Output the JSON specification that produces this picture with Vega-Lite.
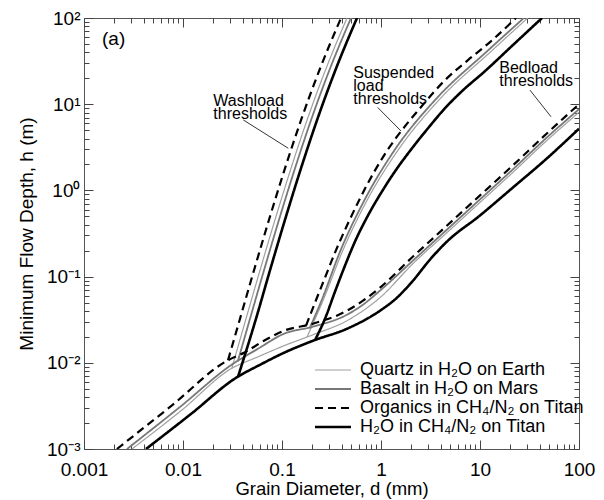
{
  "$schema": "https://vega.github.io/schema/vega-lite/v6.json",
  "width": 495,
  "height": 431,
  "autosize": {"type": "none"},
  "padding": {"left": 84, "top": 18, "right": 25, "bottom": 51},
  "config": {
    "font": "Liberation Sans",
    "view": {"stroke": "#555555", "strokeWidth": 1},
    "axis": {"grid": false, "zindex": 1, "labelColor": "#000000", "titleColor": "#000000", "labelFont": "Liberation Sans", "titleFont": "Liberation Sans", "titleFontWeight": "normal", "labelOverlap": false, "labelFlush": false, "labelBound": false},
    "legend": {"orient": "none", "legendX": 240, "legendY": 343, "padding": 0, "labelFontSize": 18, "labelFont": "Liberation Sans", "labelColor": "#000000", "symbolType": "M-3,0H3", "symbolSize": 144, "labelOffset": 18, "rowPadding": 1, "labelLimit": 400}
  },
  "datasets": {
    "curves": [
      {"material": "Quartz in H₂O on Earth", "threshold": "bed", "d": 0.00305, "h": 0.001},
      {"material": "Quartz in H₂O on Earth", "threshold": "bed", "d": 0.00977, "h": 0.00284},
      {"material": "Quartz in H₂O on Earth", "threshold": "bed", "d": 0.03054, "h": 0.00852},
      {"material": "Quartz in H₂O on Earth", "threshold": "bed", "d": 0.0572, "h": 0.01174},
      {"material": "Quartz in H₂O on Earth", "threshold": "bed", "d": 0.1047, "h": 0.01576},
      {"material": "Quartz in H₂O on Earth", "threshold": "bed", "d": 0.2056, "h": 0.02117},
      {"material": "Quartz in H₂O on Earth", "threshold": "bed", "d": 0.4535, "h": 0.03079},
      {"material": "Quartz in H₂O on Earth", "threshold": "bed", "d": 0.658, "h": 0.0402},
      {"material": "Quartz in H₂O on Earth", "threshold": "bed", "d": 0.977, "h": 0.057},
      {"material": "Quartz in H₂O on Earth", "threshold": "bed", "d": 2.105, "h": 0.1416},
      {"material": "Quartz in H₂O on Earth", "threshold": "bed", "d": 4.535, "h": 0.3162},
      {"material": "Quartz in H₂O on Earth", "threshold": "bed", "d": 10, "h": 0.7253},
      {"material": "Quartz in H₂O on Earth", "threshold": "bed", "d": 21.5, "h": 1.619},
      {"material": "Quartz in H₂O on Earth", "threshold": "bed", "d": 46.4, "h": 3.714},
      {"material": "Quartz in H₂O on Earth", "threshold": "bed", "d": 100, "h": 8.072},
      {"material": "Quartz in H₂O on Earth", "threshold": "wash", "d": 0.03104, "h": 0.00852},
      {"material": "Quartz in H₂O on Earth", "threshold": "wash", "d": 0.04329, "h": 0.03248},
      {"material": "Quartz in H₂O on Earth", "threshold": "wash", "d": 0.06065, "h": 0.1239},
      {"material": "Quartz in H₂O on Earth", "threshold": "wash", "d": 0.08577, "h": 0.4726},
      {"material": "Quartz in H₂O on Earth", "threshold": "wash", "d": 0.1233, "h": 1.803},
      {"material": "Quartz in H₂O on Earth", "threshold": "wash", "d": 0.1818, "h": 6.874},
      {"material": "Quartz in H₂O on Earth", "threshold": "wash", "d": 0.2796, "h": 26.22},
      {"material": "Quartz in H₂O on Earth", "threshold": "wash", "d": 0.4535, "h": 100},
      {"material": "Quartz in H₂O on Earth", "threshold": "susp", "d": 0.1788, "h": 0.0199},
      {"material": "Quartz in H₂O on Earth", "threshold": "susp", "d": 0.2595, "h": 0.0526},
      {"material": "Quartz in H₂O on Earth", "threshold": "susp", "d": 0.4113, "h": 0.2006},
      {"material": "Quartz in H₂O on Earth", "threshold": "susp", "d": 0.7221, "h": 0.765},
      {"material": "Quartz in H₂O on Earth", "threshold": "susp", "d": 1.482, "h": 2.918},
      {"material": "Quartz in H₂O on Earth", "threshold": "susp", "d": 3.835, "h": 11.13},
      {"material": "Quartz in H₂O on Earth", "threshold": "susp", "d": 13.38, "h": 42.45},
      {"material": "Quartz in H₂O on Earth", "threshold": "susp", "d": 30.33, "h": 100},

      {"material": "Basalt in H₂O on Mars", "threshold": "bed", "d": 0.00272, "h": 0.001},
      {"material": "Basalt in H₂O on Mars", "threshold": "bed", "d": 0.00933, "h": 0.00308},
      {"material": "Basalt in H₂O on Mars", "threshold": "bed", "d": 0.032, "h": 0.00974},
      {"material": "Basalt in H₂O on Mars", "threshold": "bed", "d": 0.0572, "h": 0.01455},
      {"material": "Basalt in H₂O on Mars", "threshold": "bed", "d": 0.1047, "h": 0.02174},
      {"material": "Basalt in H₂O on Mars", "threshold": "bed", "d": 0.2056, "h": 0.02622},
      {"material": "Basalt in H₂O on Mars", "threshold": "bed", "d": 0.4535, "h": 0.03614},
      {"material": "Basalt in H₂O on Mars", "threshold": "bed", "d": 0.658, "h": 0.04726},
      {"material": "Basalt in H₂O on Mars", "threshold": "bed", "d": 0.977, "h": 0.06874},
      {"material": "Basalt in H₂O on Mars", "threshold": "bed", "d": 2.105, "h": 0.1535},
      {"material": "Basalt in H₂O on Mars", "threshold": "bed", "d": 4.535, "h": 0.3426},
      {"material": "Basalt in H₂O on Mars", "threshold": "bed", "d": 10, "h": 0.786},
      {"material": "Basalt in H₂O on Mars", "threshold": "bed", "d": 21.5, "h": 1.755},
      {"material": "Basalt in H₂O on Mars", "threshold": "bed", "d": 46.4, "h": 4.024},
      {"material": "Basalt in H₂O on Mars", "threshold": "bed", "d": 100, "h": 8.748},
      {"material": "Basalt in H₂O on Mars", "threshold": "wash", "d": 0.03577, "h": 0.01038},
      {"material": "Basalt in H₂O on Mars", "threshold": "wash", "d": 0.04752, "h": 0.03248},
      {"material": "Basalt in H₂O on Mars", "threshold": "wash", "d": 0.06656, "h": 0.1239},
      {"material": "Basalt in H₂O on Mars", "threshold": "wash", "d": 0.09412, "h": 0.4726},
      {"material": "Basalt in H₂O on Mars", "threshold": "wash", "d": 0.1353, "h": 1.803},
      {"material": "Basalt in H₂O on Mars", "threshold": "wash", "d": 0.1995, "h": 6.874},
      {"material": "Basalt in H₂O on Mars", "threshold": "wash", "d": 0.3068, "h": 26.22},
      {"material": "Basalt in H₂O on Mars", "threshold": "wash", "d": 0.4977, "h": 100},
      {"material": "Basalt in H₂O on Mars", "threshold": "susp", "d": 0.1918, "h": 0.02573},
      {"material": "Basalt in H₂O on Mars", "threshold": "susp", "d": 0.2506, "h": 0.0526},
      {"material": "Basalt in H₂O on Mars", "threshold": "susp", "d": 0.3898, "h": 0.2006},
      {"material": "Basalt in H₂O on Mars", "threshold": "susp", "d": 0.6782, "h": 0.765},
      {"material": "Basalt in H₂O on Mars", "threshold": "susp", "d": 1.366, "h": 2.918},
      {"material": "Basalt in H₂O on Mars", "threshold": "susp", "d": 3.503, "h": 11.13},
      {"material": "Basalt in H₂O on Mars", "threshold": "susp", "d": 12.15, "h": 42.45},
      {"material": "Basalt in H₂O on Mars", "threshold": "susp", "d": 27.7, "h": 100},

      {"material": "Organics in CH₄/N₂ on Titan", "threshold": "bed", "d": 0.00215, "h": 0.001},
      {"material": "Organics in CH₄/N₂ on Titan", "threshold": "bed", "d": 0.00774, "h": 0.00321},
      {"material": "Organics in CH₄/N₂ on Titan", "threshold": "bed", "d": 0.0278, "h": 0.01055},
      {"material": "Organics in CH₄/N₂ on Titan", "threshold": "bed", "d": 0.0413, "h": 0.01307},
      {"material": "Organics in CH₄/N₂ on Titan", "threshold": "bed", "d": 0.0658, "h": 0.01803},
      {"material": "Organics in CH₄/N₂ on Titan", "threshold": "bed", "d": 0.1047, "h": 0.02356},
      {"material": "Organics in CH₄/N₂ on Titan", "threshold": "bed", "d": 0.2056, "h": 0.02842},
      {"material": "Organics in CH₄/N₂ on Titan", "threshold": "bed", "d": 0.4535, "h": 0.0402},
      {"material": "Organics in CH₄/N₂ on Titan", "threshold": "bed", "d": 0.658, "h": 0.0526},
      {"material": "Organics in CH₄/N₂ on Titan", "threshold": "bed", "d": 0.977, "h": 0.0745},
      {"material": "Organics in CH₄/N₂ on Titan", "threshold": "bed", "d": 2.105, "h": 0.1708},
      {"material": "Organics in CH₄/N₂ on Titan", "threshold": "bed", "d": 4.535, "h": 0.3814},
      {"material": "Organics in CH₄/N₂ on Titan", "threshold": "bed", "d": 10, "h": 0.875},
      {"material": "Organics in CH₄/N₂ on Titan", "threshold": "bed", "d": 21.5, "h": 1.953},
      {"material": "Organics in CH₄/N₂ on Titan", "threshold": "bed", "d": 46.4, "h": 4.479},
      {"material": "Organics in CH₄/N₂ on Titan", "threshold": "bed", "d": 100, "h": 10.0},
      {"material": "Organics in CH₄/N₂ on Titan", "threshold": "wash", "d": 0.02848, "h": 0.01070},
      {"material": "Organics in CH₄/N₂ on Titan", "threshold": "wash", "d": 0.03765, "h": 0.03248},
      {"material": "Organics in CH₄/N₂ on Titan", "threshold": "wash", "d": 0.05275, "h": 0.1239},
      {"material": "Organics in CH₄/N₂ on Titan", "threshold": "wash", "d": 0.0746, "h": 0.4726},
      {"material": "Organics in CH₄/N₂ on Titan", "threshold": "wash", "d": 0.1072, "h": 1.803},
      {"material": "Organics in CH₄/N₂ on Titan", "threshold": "wash", "d": 0.1581, "h": 6.874},
      {"material": "Organics in CH₄/N₂ on Titan", "threshold": "wash", "d": 0.2432, "h": 26.22},
      {"material": "Organics in CH₄/N₂ on Titan", "threshold": "wash", "d": 0.3945, "h": 100},
      {"material": "Organics in CH₄/N₂ on Titan", "threshold": "susp", "d": 0.1748, "h": 0.02693},
      {"material": "Organics in CH₄/N₂ on Titan", "threshold": "susp", "d": 0.2154, "h": 0.04985},
      {"material": "Organics in CH₄/N₂ on Titan", "threshold": "susp", "d": 0.2719, "h": 0.09736},
      {"material": "Organics in CH₄/N₂ on Titan", "threshold": "susp", "d": 0.343, "h": 0.1901},
      {"material": "Organics in CH₄/N₂ on Titan", "threshold": "susp", "d": 0.4535, "h": 0.3917},
      {"material": "Organics in CH₄/N₂ on Titan", "threshold": "susp", "d": 0.6137, "h": 0.8072},
      {"material": "Organics in CH₄/N₂ on Titan", "threshold": "susp", "d": 0.8698, "h": 1.708},
      {"material": "Organics in CH₄/N₂ on Titan", "threshold": "susp", "d": 1.233, "h": 3.248},
      {"material": "Organics in CH₄/N₂ on Titan", "threshold": "susp", "d": 1.748, "h": 5.549},
      {"material": "Organics in CH₄/N₂ on Titan", "threshold": "susp", "d": 2.477, "h": 8.985},
      {"material": "Organics in CH₄/N₂ on Titan", "threshold": "susp", "d": 4.431, "h": 19.01},
      {"material": "Organics in CH₄/N₂ on Titan", "threshold": "susp", "d": 7.565, "h": 32.48},
      {"material": "Organics in CH₄/N₂ on Titan", "threshold": "susp", "d": 12.62, "h": 52.6},
      {"material": "Organics in CH₄/N₂ on Titan", "threshold": "susp", "d": 23.1, "h": 100},

      {"material": "H₂O in CH₄/N₂ on Titan", "threshold": "bed", "d": 0.00423, "h": 0.001},
      {"material": "H₂O in CH₄/N₂ on Titan", "threshold": "bed", "d": 0.01204, "h": 0.00255},
      {"material": "H₂O in CH₄/N₂ on Titan", "threshold": "bed", "d": 0.0343, "h": 0.00669},
      {"material": "H₂O in CH₄/N₂ on Titan", "threshold": "bed", "d": 0.05995, "h": 0.00948},
      {"material": "H₂O in CH₄/N₂ on Titan", "threshold": "bed", "d": 0.1047, "h": 0.01307},
      {"material": "H₂O in CH₄/N₂ on Titan", "threshold": "bed", "d": 0.2056, "h": 0.01803},
      {"material": "H₂O in CH₄/N₂ on Titan", "threshold": "bed", "d": 0.4535, "h": 0.02485},
      {"material": "H₂O in CH₄/N₂ on Titan", "threshold": "bed", "d": 0.977, "h": 0.0402},
      {"material": "H₂O in CH₄/N₂ on Titan", "threshold": "bed", "d": 1.451, "h": 0.057},
      {"material": "H₂O in CH₄/N₂ on Titan", "threshold": "bed", "d": 2.105, "h": 0.0898},
      {"material": "H₂O in CH₄/N₂ on Titan", "threshold": "bed", "d": 3.126, "h": 0.1576},
      {"material": "H₂O in CH₄/N₂ on Titan", "threshold": "bed", "d": 4.642, "h": 0.2553},
      {"material": "H₂O in CH₄/N₂ on Titan", "threshold": "bed", "d": 10, "h": 0.5121},
      {"material": "H₂O in CH₄/N₂ on Titan", "threshold": "bed", "d": 21.5, "h": 1.08},
      {"material": "H₂O in CH₄/N₂ on Titan", "threshold": "bed", "d": 46.4, "h": 2.3},
      {"material": "H₂O in CH₄/N₂ on Titan", "threshold": "bed", "d": 100, "h": 5.2},
      {"material": "H₂O in CH₄/N₂ on Titan", "threshold": "wash", "d": 0.03594, "h": 0.006874},
      {"material": "H₂O in CH₄/N₂ on Titan", "threshold": "wash", "d": 0.05463, "h": 0.03248},
      {"material": "H₂O in CH₄/N₂ on Titan", "threshold": "wash", "d": 0.07652, "h": 0.1239},
      {"material": "H₂O in CH₄/N₂ on Titan", "threshold": "wash", "d": 0.1082, "h": 0.4726},
      {"material": "H₂O in CH₄/N₂ on Titan", "threshold": "wash", "d": 0.1555, "h": 1.803},
      {"material": "H₂O in CH₄/N₂ on Titan", "threshold": "wash", "d": 0.2294, "h": 6.874},
      {"material": "H₂O in CH₄/N₂ on Titan", "threshold": "wash", "d": 0.3527, "h": 26.22},
      {"material": "H₂O in CH₄/N₂ on Titan", "threshold": "wash", "d": 0.5722, "h": 100},
      {"material": "H₂O in CH₄/N₂ on Titan", "threshold": "susp", "d": 0.2154, "h": 0.01830},
      {"material": "H₂O in CH₄/N₂ on Titan", "threshold": "susp", "d": 0.2719, "h": 0.03248},
      {"material": "H₂O in CH₄/N₂ on Titan", "threshold": "susp", "d": 0.343, "h": 0.06692},
      {"material": "H₂O in CH₄/N₂ on Titan", "threshold": "susp", "d": 0.4329, "h": 0.1342},
      {"material": "H₂O in CH₄/N₂ on Titan", "threshold": "susp", "d": 0.5463, "h": 0.2553},
      {"material": "H₂O in CH₄/N₂ on Titan", "threshold": "susp", "d": 0.739, "h": 0.5121},
      {"material": "H₂O in CH₄/N₂ on Titan", "threshold": "susp", "d": 1.0235, "h": 0.9736},
      {"material": "H₂O in CH₄/N₂ on Titan", "threshold": "susp", "d": 1.385, "h": 1.663},
      {"material": "H₂O in CH₄/N₂ on Titan", "threshold": "susp", "d": 2.056, "h": 3.079},
      {"material": "H₂O in CH₄/N₂ on Titan", "threshold": "susp", "d": 2.984, "h": 5.259},
      {"material": "H₂O in CH₄/N₂ on Titan", "threshold": "susp", "d": 4.431, "h": 8.985},
      {"material": "H₂O in CH₄/N₂ on Titan", "threshold": "susp", "d": 6.58, "h": 14.17},
      {"material": "H₂O in CH₄/N₂ on Titan", "threshold": "susp", "d": 11.23, "h": 24.19},
      {"material": "H₂O in CH₄/N₂ on Titan", "threshold": "susp", "d": 21.5, "h": 48.53},
      {"material": "H₂O in CH₄/N₂ on Titan", "threshold": "susp", "d": 42.3, "h": 100}
    ],
    "leaders": [
      {"d1": 0.04065, "h1": 6.568, "d2": 0.1158, "h2": 3.079},
      {"d1": 0.926, "h1": 9.155, "d2": 1.592, "h2": 4.892},
      {"d1": 32.0, "h1": 14.55, "d2": 52.14, "h2": 7.156}
    ],
    "notes": [
      {"d": 0.02024, "h": 9.48, "label": "Washload\nthresholds"},
      {"d": 0.525, "h": 20.06, "label": "Suspended\nload\nthresholds"},
      {"d": 15.66, "h": 22.94, "label": "Bedload\nthresholds"}
    ],
    "panel": [
      {"d": 0.00152, "h": 57, "label": "(a)"}
    ]
  },
  "layer": [
    {
      "data": {"name": "curves"},
      "mark": {"type": "line", "interpolate": "monotone", "clip": true, "strokeJoin": "round"},
      "encoding": {
        "x": {
          "field": "d", "type": "quantitative",
          "scale": {"type": "log", "domain": [0.001, 100], "nice": false},
          "axis": {
            "orient": "bottom",
            "values": [0.001, 0.01, 0.1, 1, 10, 100],
            "format": "~g",
            "domain": false,
            "ticks": true,
            "tickColor": "#444444",
            "tickWidth": 1,
            "tickSize": 9,
            "offset": -9,
            "labelPadding": 11,
            "labelFontSize": 19,
            "title": "Grain Diameter, d (mm)",
            "titleFontSize": 18.5,
            "titlePadding": 0
          }
        },
        "y": {
          "field": "h", "type": "quantitative",
          "scale": {"type": "log", "domain": [0.001, 100], "nice": false},
          "axis": {
            "orient": "left",
            "values": [0.001, 0.01, 0.1, 1, 10, 100],
            "labelExpr": "datum.value == 100 ? '10²' : datum.value == 10 ? '10¹' : datum.value == 1 ? '10⁰' : datum.value == 0.1 ? '10⁻¹' : datum.value == 0.01 ? '10⁻²' : '10⁻³'",
            "domain": false,
            "ticks": true,
            "tickColor": "#444444",
            "tickWidth": 1,
            "tickSize": 9,
            "offset": -9,
            "labelPadding": 4,
            "labelFontSize": 19,
            "title": "Minimum Flow Depth, h (m)",
            "titleFontSize": 19,
            "titlePadding": 10
          }
        },
        "color": {
          "field": "material", "type": "nominal",
          "scale": {"domain": ["Quartz in H₂O on Earth", "Basalt in H₂O on Mars", "Organics in CH₄/N₂ on Titan", "H₂O in CH₄/N₂ on Titan"], "range": ["#a0a0a0", "#787878", "#000000", "#000000"]},
          "legend": {"title": null}
        },
        "strokeDash": {
          "field": "material", "type": "nominal",
          "scale": {"domain": ["Quartz in H₂O on Earth", "Basalt in H₂O on Mars", "Organics in CH₄/N₂ on Titan", "H₂O in CH₄/N₂ on Titan"], "range": [[1, 0], [1, 0], [8, 5], [1, 0]]},
          "legend": {"title": null}
        },
        "strokeWidth": {
          "field": "material", "type": "nominal",
          "scale": {"type": "ordinal", "domain": ["Quartz in H₂O on Earth", "Basalt in H₂O on Mars", "Organics in CH₄/N₂ on Titan", "H₂O in CH₄/N₂ on Titan"], "range": [1.2, 1.8, 2.2, 2.6]},
          "legend": {"title": null}
        },
        "detail": {"field": "threshold", "type": "nominal"}
      }
    },
    {
      "data": {"name": "leaders"},
      "mark": {"type": "rule", "color": "#000000", "strokeWidth": 0.8},
      "encoding": {
        "x": {
          "field": "d1", "type": "quantitative",
          "axis": {"orient": "top", "values": [0.001, 0.01, 0.1, 1, 10, 100], "labels": false, "domain": false, "ticks": true, "tickColor": "#444444", "tickWidth": 1, "title": null, "tickSize": 9, "offset": -9}
        },
        "x2": {"field": "d2"},
        "y": {
          "field": "h1", "type": "quantitative",
          "axis": {"orient": "right", "values": [0.001, 0.01, 0.1, 1, 10, 100], "labels": false, "domain": false, "ticks": true, "tickColor": "#444444", "tickWidth": 1, "title": null, "tickSize": 9, "offset": -9}
        },
        "y2": {"field": "h2"}
      }
    },
    {
      "data": {"name": "notes"},
      "mark": {"type": "text", "align": "left", "baseline": "alphabetic", "fontSize": 16, "lineHeight": 13, "lineBreak": "\n", "font": "Liberation Sans", "color": "#000000"},
      "encoding": {
        "x": {
          "field": "d", "type": "quantitative",
          "axis": {"orient": "bottom", "values": [0.002,0.003,0.004,0.005,0.006,0.007,0.008,0.009,0.02,0.03,0.04,0.05,0.06,0.07,0.08,0.09,0.2,0.3,0.4,0.5,0.6,0.7,0.8,0.9,2,3,4,5,6,7,8,9,20,30,40,50,60,70,80,90], "labels": false, "domain": false, "ticks": true, "tickColor": "#444444", "tickWidth": 1, "title": null, "tickSize": 5, "offset": -5}
        },
        "y": {
          "field": "h", "type": "quantitative",
          "axis": {"orient": "left", "values": [0.002,0.003,0.004,0.005,0.006,0.007,0.008,0.009,0.02,0.03,0.04,0.05,0.06,0.07,0.08,0.09,0.2,0.3,0.4,0.5,0.6,0.7,0.8,0.9,2,3,4,5,6,7,8,9,20,30,40,50,60,70,80,90], "labels": false, "domain": false, "ticks": true, "tickColor": "#444444", "tickWidth": 1, "title": null, "tickSize": 5, "offset": -5}
        },
        "text": {"field": "label"}
      }
    },
    {
      "data": {"name": "panel"},
      "mark": {"type": "text", "align": "left", "baseline": "middle", "fontSize": 19, "font": "Liberation Sans", "color": "#000000"},
      "encoding": {
        "x": {
          "field": "d", "type": "quantitative",
          "axis": {"orient": "top", "values": [0.002,0.003,0.004,0.005,0.006,0.007,0.008,0.009,0.02,0.03,0.04,0.05,0.06,0.07,0.08,0.09,0.2,0.3,0.4,0.5,0.6,0.7,0.8,0.9,2,3,4,5,6,7,8,9,20,30,40,50,60,70,80,90], "labels": false, "domain": false, "ticks": true, "tickColor": "#444444", "tickWidth": 1, "title": null, "tickSize": 5, "offset": -5}
        },
        "y": {
          "field": "h", "type": "quantitative",
          "axis": {"orient": "right", "values": [0.002,0.003,0.004,0.005,0.006,0.007,0.008,0.009,0.02,0.03,0.04,0.05,0.06,0.07,0.08,0.09,0.2,0.3,0.4,0.5,0.6,0.7,0.8,0.9,2,3,4,5,6,7,8,9,20,30,40,50,60,70,80,90], "labels": false, "domain": false, "ticks": true, "tickColor": "#444444", "tickWidth": 1, "title": null, "tickSize": 5, "offset": -5}
        },
        "text": {"field": "label"}
      }
    }
  ],
  "resolve": {"axis": {"x": "independent", "y": "independent"}}
}
